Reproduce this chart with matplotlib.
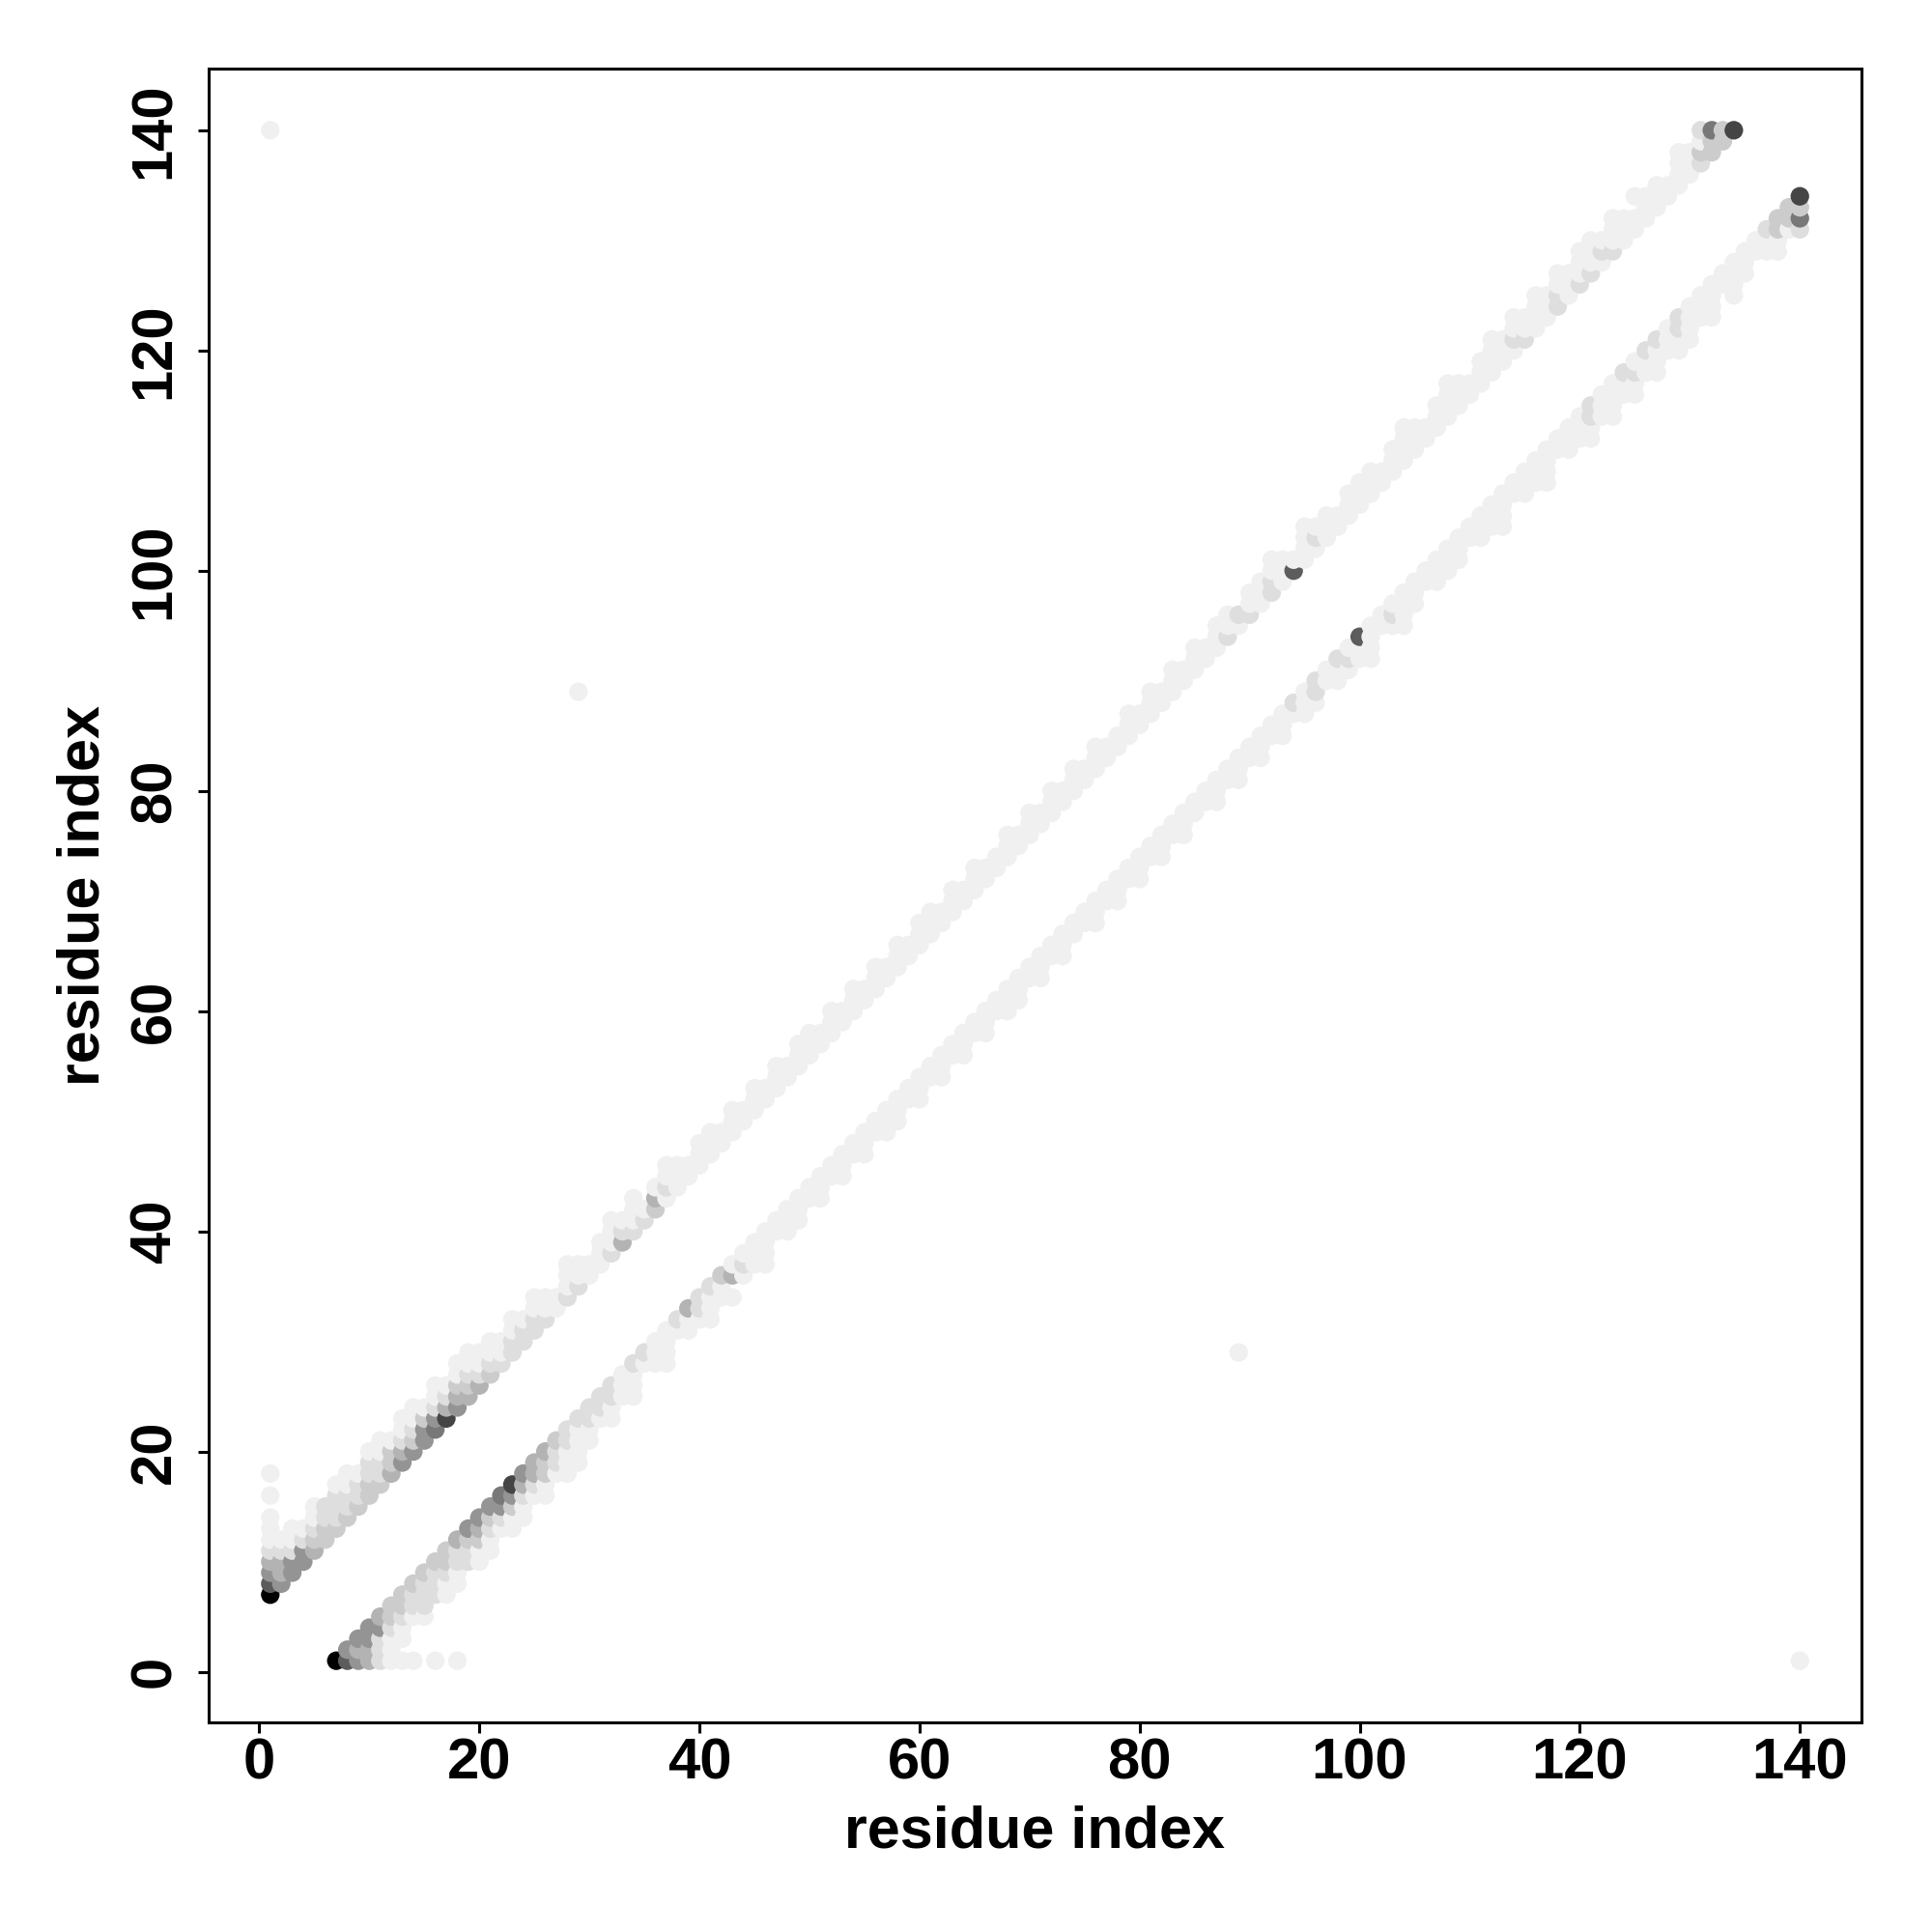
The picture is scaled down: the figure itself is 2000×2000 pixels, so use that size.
import numpy as np
import matplotlib.pyplot as plt

plt.rcParams['font.family'] = ['Liberation Sans', 'DejaVu Sans']
plt.rcParams['font.weight'] = 'bold'

# contact level per residue i = 1..134 (0 = none, 1 very light .. 9 black)
# one string per diagonal offset j - i; the map is symmetric
band_offsets = [6, 7, 8, 9, 10]
band_levels = [
    "9555433333" "3455568544" "3222221221" "1242231111" "1111111111"
    "1111111111" "1111111111" "1111111111" "1111111212" "1217111111"
    "1111111111" "1111211212" "2121111111" "2338",
    "7455332223" "2343554432" "2122211111" "1121142111" "1111111111"
    "1111111111" "1111111111" "1111111111" "1111111121" "1211121111"
    "1111111111" "1112111211" "1211111111" "3330",
    "5422222222" "2322322321" "1111110110" "1111011101" "1010101011"
    "0101010101" "1010100101" "0101010010" "1010101101" "1110111011"
    "1011101110" "1111111111" "1111011011" "1600",
    "4211122112" "1111111111" "1010100100" "0101001000" "0000000000"
    "0000000000" "0000000000" "0000000000" "0000000000" "0100100000"
    "0001000100" "0101010101" "1010100010" "2000",
    "2110101101" "1011010110" "0000000000" "0000000000" "0000000000"
    "0000000000" "0000000000" "0000000000" "0000000000" "0000000000"
    "0000000000" "0000000000" "0000000000" "0000",
]

# isolated contacts (upper half, i < j)
extra_i = [1, 1, 1, 1, 1, 1, 29]
extra_j = [12, 13, 14, 16, 18, 140, 89]
extra_lv = [1, 1, 1, 1, 1, 1, 1]

gray_of_level = [1.0, 0.94, 0.87, 0.80, 0.70, 0.58, 0.47, 0.36, 0.27, 0.0]

xs, ys, lv = [], [], []
for d, row in zip(band_offsets, band_levels):
    for k, c in enumerate(row):
        if c != '0':
            i = k + 1
            xs += [i, i + d]
            ys += [i + d, i]
            lv += [int(c)] * 2
for i, j, l in zip(extra_i, extra_j, extra_lv):
    xs += [i, j]
    ys += [j, i]
    lv += [l, l]

xs = np.array(xs)
ys = np.array(ys)
lv = np.array(lv)
order = np.lexsort((ys, xs))
cols = [str(gray_of_level[l]) for l in lv[order]]

fig = plt.figure(figsize=(10, 10), dpi=200)
ax = fig.add_axes([0.108, 0.1085, 0.8555, 0.856])
ax.scatter(xs[order], ys[order], c=cols, s=48, linewidths=0)

ax.set_xlim(-4.6, 145.6)
ax.set_ylim(-4.6, 145.6)
ax.set_xticks(range(0, 141, 20))
ax.set_yticks(range(0, 141, 20))
ax.tick_params(direction='out', length=4, width=1.1, labelsize=21.5)
ax.tick_params(axis='x', pad=1.5)
ax.tick_params(axis='y', pad=6, labelrotation=90)
for lab in ax.get_yticklabels():
    lab.set_va('center')
for s in ax.spines.values():
    s.set_linewidth(1.1)

ax.set_xlabel('residue index', fontsize=22, fontweight='bold')
ax.set_ylabel('residue index', fontsize=22, fontweight='bold')
ax.xaxis.set_label_coords(0.5, -0.05)
ax.yaxis.set_label_coords(-0.059, 0.5)

fig.savefig('out.png', dpi=200)
